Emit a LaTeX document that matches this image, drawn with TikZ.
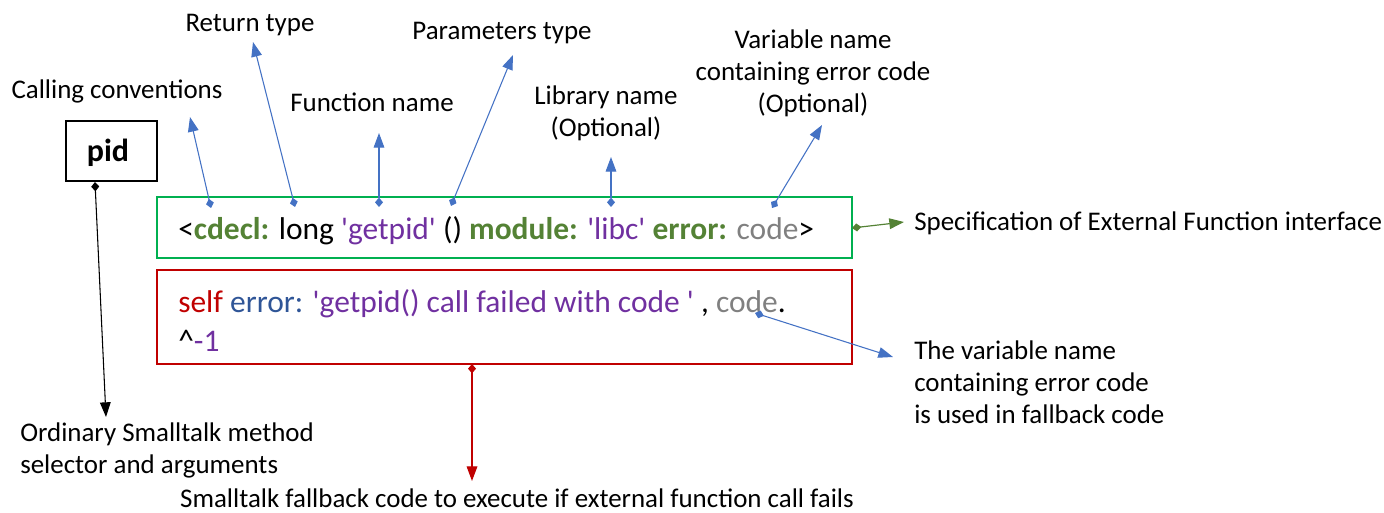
\documentclass[tikz,border=0pt]{standalone}
\usepackage{fontspec}
\setmainfont{Carlito}
\usetikzlibrary{arrows.meta}
\definecolor{ablue}{HTML}{4472C4}
\definecolor{cgreen}{HTML}{548235}
\definecolor{bgreen}{HTML}{00B050}
\definecolor{cpurple}{HTML}{7030A0}
\definecolor{cgray}{HTML}{808080}
\definecolor{cred}{HTML}{C00000}
\definecolor{cblue}{HTML}{2F5597}
\newcommand{\sq}{\textquotesingle}
\tikzset{
  lbl/.style={inner sep=0pt, font=\fontsize{20.2}{24}\selectfont},
  codeline/.style={inner sep=0pt, font=\fontsize{23.6}{28}\selectfont},
  dstart/.style={{Diamond[length=7pt,width=6pt]}-{Triangle[length=11pt,width=8pt]}},
}
\begin{document}
\begin{tikzpicture}[x=0.75pt,y=-0.75pt]
\useasboundingbox (0,0) rectangle (1384,513);
% boxes
\node[draw=black, line width=0.8pt, minimum width=68.25pt, minimum height=45pt, inner sep=0pt] (pid) at (111.5,151) {};
\node[inner sep=0pt, font=\fontsize{24}{28}\selectfont\bfseries, anchor=base] (pidt) at (108,162) {pid};
\draw[bgreen, line width=1pt] (157,197) rectangle (852,258);
\coordinate (gbr) at (852,228);
\draw[cred, line width=1pt] (157,270) rectangle (852,364);
% code text
\node[codeline, anchor=base west] (code1) at (178,239) {<\textcolor{cgreen}{\bfseries cdecl:} long \textcolor{cpurple}{\sq getpid\sq} () \textcolor{cgreen}{\bfseries module:} \textcolor{cpurple}{\sq libc\sq} \textcolor{cgreen}{\bfseries error:} \textcolor{cgray}{code}>};
\node[codeline, anchor=base west] (code2) at (178,312) {\textcolor{cred}{self} \textcolor{cblue}{error:} \textcolor{cpurple}{\sq getpid() call failed with code \sq} , \textcolor{cgray}{code}.};
\node[codeline, anchor=base west] (code3) at (178,351) {\^{}\textcolor{cpurple}{-1}};
% labels
\node[lbl, anchor=base] (rt) at (250,32) {Return type};
\node[lbl, anchor=base] (cc) at (117,99) {Calling conventions};
\node[lbl, anchor=base] (fn) at (372,112) {Function name};
\node[lbl, anchor=base] (pt) at (502,40) {Parameters type};
\node[lbl, anchor=base, align=center] (ln) at (606,137) {Library name\\(Optional)};
\node[lbl, anchor=base, align=center] (vn) at (813,113) {Variable name\\containing error code\\(Optional)};
\node[lbl, anchor=base west] (spec) at (914,231) {Specification of External Function interface};
\node[lbl, anchor=base west, align=left] (tvn) at (914,423) {The variable name\\containing error code\\is used in fallback code};
\node[lbl, anchor=base west, align=left] (ord) at (20,473) {Ordinary Smalltalk method\\selector and arguments};
\node[lbl, anchor=base] (fb) at (517,507) {Smalltalk fallback code to execute if external function call fails};
% anchor coordinates
\coordinate (a1) at (211,208); \coordinate (t1) at (190,117);
\coordinate (a2) at (295,207); \coordinate (t2) at (253,42);
\coordinate (a3) at (379,207); \coordinate (t3) at (379,133);
\coordinate (a4) at (451,206); \coordinate (t4) at (513,55);
\coordinate (a5) at (611,207); \coordinate (t5) at (611,157);
\coordinate (a6) at (772,208); \coordinate (t6) at (822,125);
\coordinate (t7) at (904,222);
\coordinate (a8) at (755,313); \coordinate (t8) at (893,357);
\coordinate (a9) at (95,182); \coordinate (t9) at (106,417);
\coordinate (a10) at (472,364); \coordinate (t10) at (472,481);
\begin{scope}[ablue, line width=0.8pt]
\draw[dstart] (a1) -- (t1);
\draw[dstart] (a2) -- (t2);
\draw[dstart] (a3) -- (t3);
\draw[dstart] (a4) -- (t4);
\draw[dstart] (a5) -- (t5);
\draw[dstart] (a6) -- (t6);
\draw[dstart] (a8) -- (t8);
\end{scope}
\draw[cgreen, line width=0.9pt, dstart] (gbr) -- (t7);
\draw[black, line width=0.8pt, dstart] (a9) -- (t9);
\draw[cred, line width=0.9pt, dstart] (a10) -- (t10);
\end{tikzpicture}
\end{document}
